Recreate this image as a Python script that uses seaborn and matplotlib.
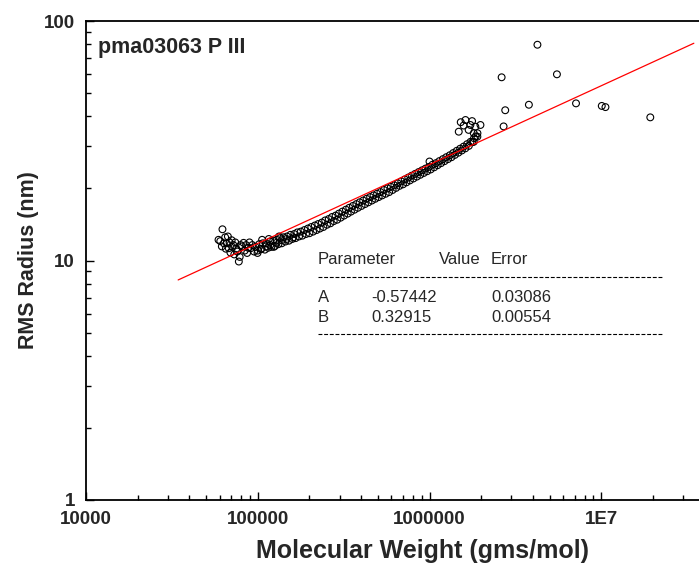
import matplotlib
matplotlib.use("Agg")
import numpy as np
import pandas as pd
import matplotlib.pyplot as plt
import seaborn as sns
from matplotlib.lines import Line2D
from matplotlib.ticker import FixedLocator, FixedFormatter, LogLocator, NullFormatter

# ---- data: molecular weight (g/mol) vs RMS radius (nm) ----
# noisy low-MW slices
mw_low = [59100, 60500, 61800, 62300, 63500, 64600, 65200, 66100, 67000, 67800,
          68500, 69300, 70500, 71200, 72100, 73000, 74000, 75000, 76000, 77600,
          78500, 79500, 81000, 82700, 84000, 85500, 86700, 88000, 89500, 91000,
          93000, 95200, 97000, 99700, 104300, 111500, 118300, 128600, 137700,
          147300, 161000, 106000, 116000, 124000, 133000]
rg_low = [12.2, 12.05, 11.45, 13.5, 11.8, 12.5, 11.2, 11.8, 12.6, 11.25,
          11.9, 10.8, 12.15, 11.4, 11.6, 10.6, 11.9, 11.2, 10.9, 9.9,
          10.35, 11.6, 11.45, 11.85, 11.0, 11.6, 10.75, 11.3, 11.9, 11.25,
          11.6, 10.9, 11.4, 10.75, 11.15, 11.45, 11.6, 11.85, 12.15,
          12.3, 12.5, 12.2, 12.3, 11.4, 12.6]

# main elution trace (kg/mol)
mw_main_k = [100, 102, 105, 107, 110, 112, 115, 118, 120, 123, 126, 129, 132, 135, 138, 141,
             145, 148, 152, 155, 159, 163, 166, 170, 174, 178, 182, 187, 191, 196, 200, 205,
             210, 215, 220, 225, 230, 236, 241, 247, 253, 259, 265, 271, 277, 284, 290, 297,
             304, 311, 318, 326, 334, 341, 349, 358, 366, 375, 383, 392, 402, 411, 421, 430,
             441, 451, 462, 472, 483, 495, 506, 518, 530, 543, 556, 569, 582, 596, 610, 624,
             639, 654, 669, 685, 701, 717, 734, 752, 769, 787, 806, 825, 844, 864, 884, 905,
             926, 948, 970, 993, 1016, 1040, 1065, 1090, 1115, 1141, 1168, 1196, 1224, 1252,
             1282, 1312, 1343, 1374, 1406, 1440, 1473, 1508, 1543, 1580, 1617, 1655, 1694,
             1733, 1774, 1816, 1858, 1902]
rg_main = [11.0, 11.7, 11.2, 11.8, 11.1, 11.8, 11.3, 12.0, 11.4, 12.1, 11.5, 12.2, 11.7, 12.4, 11.8, 12.5,
           12.0, 12.6, 12.1, 12.8, 12.3, 12.9, 12.4, 13.1, 12.6, 13.2, 12.7, 13.4, 12.9, 13.6, 13.0, 13.8,
           13.2, 14.0, 13.4, 14.2, 13.6, 14.4, 13.8, 14.7, 14.1, 14.9, 14.3, 15.2, 14.6, 15.4, 14.8, 15.7,
           15.1, 16.0, 15.4, 16.3, 15.7, 16.6, 16.0, 16.9, 16.3, 17.2, 16.6, 17.5, 16.9, 17.8, 17.2, 18.1,
           17.5, 18.4, 17.8, 18.7, 18.1, 19.0, 18.4, 19.3, 18.7, 19.7, 19.0, 20.0, 19.3, 20.3, 19.7, 20.6,
           20.1, 21.0, 20.5, 21.4, 20.8, 21.8, 21.2, 22.2, 21.6, 22.6, 22.0, 23.0, 22.4, 23.4, 22.8, 23.8,
           23.2, 24.2, 23.6, 24.6, 24.0, 25.1, 24.5, 25.5, 25.0, 26.0, 25.5, 26.5, 26.0, 27.0,
           26.5, 27.5, 27.0, 28.1, 27.6, 28.7, 28.2, 29.3, 28.8, 29.9, 29.4, 30.6, 30.1,
           31.3, 31.2, 32.4, 33.0, 34.0]

# aggregate shoulder at the high-MW end of the peak
mw_aggr = [1.48e6, 1.69e6, 1.81e6, 1.90e6, 1.81e6, 1.52e6, 1.62e6, 1.77e6, 1.98e6,
           1.73e6, 1.85e6, 1.58e6, 1.00e6]
rg_aggr = [34.5, 35.1, 34.0, 32.9, 31.3, 37.8, 38.6, 38.2, 36.8,
           36.8, 36.2, 36.6, 25.9]

# sparse high-MW slices
mw_high = [2.63e6, 2.76e6, 2.70e6, 3.79e6, 4.25e6, 5.52e6, 7.13e6, 1.007e7, 1.058e7, 1.93e7]
rg_high = [58.2, 42.4, 36.3, 44.7, 79.6, 59.9, 45.3, 44.2, 43.7, 39.6]

# power-law fit log10(R) = A + B*log10(M)
fit_A, fit_A_err = -0.57442, 0.03086
fit_B, fit_B_err = 0.32915, 0.00554
fit_range = [3.44e4, 3.46e7]

x_ticks = [1e4, 1e5, 1e6, 1e7, 1e8]
x_tick_labels = ["10000", "100000", "1000000", "1E7", ""]
y_ticks = [1, 10, 100]
y_tick_labels = ["1", "10", "100"]

df = pd.DataFrame({
    "mw": mw_low + [m * 1000 for m in mw_main_k] + mw_aggr + mw_high,
    "rg": rg_low + rg_main + rg_aggr + rg_high,
})
fit_mw = np.array(fit_range)
fit_df = pd.DataFrame({"mw": fit_mw, "rg": 10 ** (fit_A + fit_B * np.log10(fit_mw))})

sns.set_style("ticks")
plt.rcParams["font.family"] = ["Liberation Sans", "DejaVu Sans"]

fig = plt.figure(figsize=(6.99, 5.63), dpi=100)
W, H = 699, 563
# axis box runs out past the right edge of the canvas (up to 1E8)
ax = fig.add_axes([86 / W, 63 / H, 687 / W, 479 / H])

sns.scatterplot(data=df, x="mw", y="rg", ax=ax, marker="o", s=24,
                facecolors="none", edgecolor="black", linewidth=0.8,
                legend=False, zorder=3)
ax.collections[-1].set_facecolor("none")
sns.lineplot(data=fit_df, x="mw", y="rg", ax=ax, color="#ff0000", linewidth=0.9,
             zorder=4, legend=False)

ax.set_xscale("log")
ax.set_yscale("log")
ax.set_xlim(1e4, 1e8)
ax.set_ylim(1, 100)

ax.xaxis.set_major_locator(FixedLocator(x_ticks))
ax.xaxis.set_major_formatter(FixedFormatter(x_tick_labels))
ax.yaxis.set_major_locator(FixedLocator(y_ticks))
ax.yaxis.set_major_formatter(FixedFormatter(y_tick_labels))
ax.xaxis.set_minor_locator(LogLocator(base=10, subs=np.arange(2, 10)))
ax.yaxis.set_minor_locator(LogLocator(base=10, subs=np.arange(2, 10)))
ax.xaxis.set_minor_formatter(NullFormatter())
ax.yaxis.set_minor_formatter(NullFormatter())

ax.tick_params(which="both", direction="in", color="black", width=1.0,
               top=False, right=False)
ax.tick_params(which="major", length=6, labelsize=13.5, pad=8)
ax.tick_params(which="minor", length=3.5)
for lab in ax.get_xticklabels() + ax.get_yticklabels():
    lab.set_fontweight("bold")

for side in ["left", "bottom", "top", "right"]:
    ax.spines[side].set_visible(True)
    ax.spines[side].set_linewidth(1.3)
    ax.spines[side].set_color("black")

ax.set_xlabel("Molecular Weight (gms/mol)", fontsize=18, fontweight="bold")
ax.xaxis.set_label_coords((423 - 86) / 687, (500 - 539) / 479)
ax.set_ylabel("RMS Radius (nm)", fontsize=15.5, fontweight="bold")
ax.yaxis.set_label_coords((39 - 86) / 687, 0.5)

fig.text(98 / W, 1 - 47 / H, "pma03063 P III", fontsize=15.5, fontweight="bold",
         va="center", ha="left")

# fit-parameter table
tx = dict(fontsize=12, va="center", ha="left")
fig.text(318 / W, 1 - 259 / H, "Parameter", **tx)
fig.text(439 / W, 1 - 259 / H, "Value", **tx)
fig.text(491 / W, 1 - 259 / H, "Error", **tx)
fig.text(318 / W, 1 - 298 / H, "A", **tx)
fig.text(371 / W, 1 - 298 / H, f"{fit_A:.5f}", **tx)
fig.text(491 / W, 1 - 298 / H, f"{fit_A_err:.5f}", **tx)
fig.text(318 / W, 1 - 317 / H, "B", **tx)
fig.text(371 / W, 1 - 317 / H, f"{fit_B:.5f}", **tx)
fig.text(491 / W, 1 - 317 / H, f"{fit_B_err:.5f}", **tx)
for yy in (277.5, 334):
    fig.add_artist(Line2D([318 / W, 662 / W], [1 - yy / H] * 2, transform=fig.transFigure,
                          color="black", linewidth=0.8, linestyle=(0, (3.5, 1.6))))

fig.savefig("out.png", dpi=100)
